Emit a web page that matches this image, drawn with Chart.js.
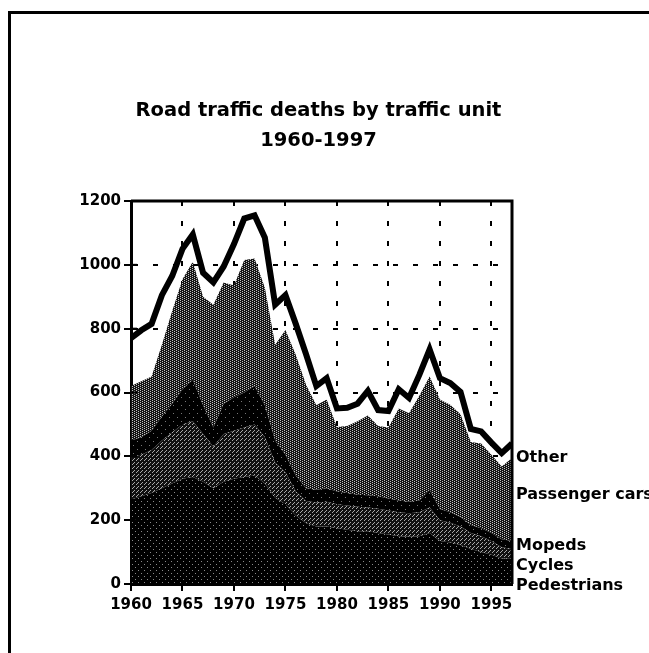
<!DOCTYPE html>
<html>
<head>
<meta charset="utf-8">
<title>Road traffic deaths by traffic unit 1960-1997</title>
<script src="https://cdn.jsdelivr.net/npm/chart.js"></script>
<style>
  html,body{margin:0;padding:0;background:#fff;}
  #wrap{position:relative;width:649px;height:653px;overflow:hidden;}
  #frame{position:absolute;left:8px;top:11px;width:700px;height:700px;border-left:3px solid #000;border-top:3px solid #000;pointer-events:none;}
  canvas{position:absolute;left:0;top:0;}
</style>
</head>
<body>
<div id="wrap">
  <canvas id="chart" width="649" height="653"></canvas>
  <div id="frame"></div>
</div>
<script>
// ===== Dados =====
const years = [1960,1961,1962,1963,1964,1965,1966,1967,1968,1969,
  1970,1971,1972,1973,1974,1975,1976,1977,1978,1979,
  1980,1981,1982,1983,1984,1985,1986,1987,1988,1989,
  1990,1991,1992,1993,1994,1995,1996,1997];

const pedestrians = [265,275,285,300,315,330,335,320,300,320,330,335,340,315,270,250,215,190,180,180,175,170,165,165,160,155,150,148,150,160,135,130,122,110,100,92,80,78];
const cycles      = [135,130,135,150,160,170,175,150,130,150,150,155,160,145,110,100,75,70,75,78,75,76,77,75,76,75,75,74,75,80,65,62,58,50,50,43,35,32];
const mopeds      = [50,55,60,75,90,110,130,90,60,95,105,110,120,100,70,55,50,40,40,42,40,39,38,38,39,38,37,36,37,55,35,33,30,25,25,25,25,25];
const cars        = [170,175,170,225,290,345,370,340,385,380,350,415,400,368,300,391,378,324,265,278,202,210,230,250,220,222,288,277,328,355,343,337,322,260,265,245,228,260];
const other       = [150,160,165,155,110,95,85,75,70,50,130,130,135,157,125,109,97,96,60,67,58,57,55,77,50,52,60,48,65,85,67,68,70,41,38,38,42,45];

const seriesNames = ['Pedestrians','Cycles','Mopeds','Passenger cars','Other'];
const labelValues = [-5, 56, 119, 279, 396]; // altura (em mortes) dos rótulos à direita

const xTicks = [1960,1965,1970,1975,1980,1985,1990,1995];
const yTicks = [0,200,400,600,800,1000,1200];
const titleLines = ['Road traffic deaths by traffic unit','1960-1997'];

// ===== Texturas pontilhadas (imitando o retículo do original) =====
function pontilhado(tile, dots, dotColor, base='#000'){
  const c = document.createElement('canvas');
  c.width = tile; c.height = tile;
  const g = c.getContext('2d');
  g.fillStyle = base; g.fillRect(0,0,tile,tile);
  g.fillStyle = dotColor;
  dots.forEach(([x,y])=> g.fillRect(x,y,1,1));
  return document.getElementById('chart').getContext('2d').createPattern(c,'repeat');
}
const texCars  = pontilhado(4, [[0,0],[2,1],[0,2],[2,3]], '#c0c0c0', '#141414');
const texMop   = pontilhado(8, [[1,1],[5,5]], '#777');
const texCyc   = pontilhado(4, [[0,0],[2,2],[1,3]], '#a8a8a8', '#101010');
const texPed   = pontilhado(6, [[0,0],[3,3]], '#8a8a8a');

const fills = [texPed, texCyc, texMop, texCars, 'rgba(0,0,0,0)'];
const values = [pedestrians, cycles, mopeds, cars, other];

const datasets = seriesNames.map((nome,i)=>({
  label: nome,
  data: years.map((y,k)=>({x:y, y:values[i][k]})),
  backgroundColor: fills[i],
  borderColor: i===4 ? '#000' : 'rgba(0,0,0,0)',
  borderWidth: i===4 ? 6 : 0,
  fill: i===0 ? 'origin' : (i===4 ? false : '-1'),
  pointRadius: 0,
  tension: 0
}));

// título centrado sobre a área do gráfico, moldura (topo e direita),
// tiques cruzando o eixo y e rótulos das séries
const caixaERotulos = {
  id: 'caixaERotulos',
  afterDraw(chart){
    const {ctx, chartArea:a, scales:{y}} = chart;
    ctx.save();
    ctx.strokeStyle = '#000'; ctx.lineWidth = 3;
    ctx.beginPath();
    ctx.moveTo(a.left, a.top); ctx.lineTo(a.right, a.top); ctx.lineTo(a.right, a.bottom);
    ctx.stroke();
    ctx.lineWidth = 2;
    yTicks.forEach(v=>{
      const py = y.getPixelForValue(v);
      ctx.beginPath(); ctx.moveTo(a.left, py); ctx.lineTo(a.left + 6, py); ctx.stroke();
    });
    ctx.fillStyle = '#000';
    ctx.textBaseline = 'middle';
    ctx.textAlign = 'center';
    ctx.font = 'bold 19.5px "DejaVu Sans"';
    titleLines.forEach((t,i)=> ctx.fillText(t, (a.left + a.right)/2 - 3, a.top - 90 + i*30));
    ctx.textAlign = 'left';
    ctx.font = 'bold 16px "DejaVu Sans"';
    seriesNames.forEach((nome,i)=> ctx.fillText(nome, a.right + 4, y.getPixelForValue(labelValues[i])));
    ctx.restore();
  }
};

const fonteEixo = {family:'"DejaVu Sans"', size:15, weight:'bold'};
const grade = {color:'#000', lineWidth:2, tickColor:'#000', tickWidth:2, tickLength:7, tickBorderDash:[]};
const borda = {color:'#000', width:3, dash:[5,15]};

new Chart(document.getElementById('chart').getContext('2d'), {
  type: 'line',
  data: { datasets },
  options: {
    responsive: false,
    animation: false,
    layout: { padding: { left: 81, right: 137, top: 201, bottom: 29 } },
    plugins: {
      legend: { display: false },
      tooltip: { enabled: false },
      title: { display: false }
    },
    scales: {
      x: {
        type: 'linear', min: years[0], max: years[years.length-1],
        afterBuildTicks: ax => { ax.ticks = xTicks.map(v => ({value: v})); },
        afterFit: ax => { ax.height = 40; },
        ticks: { color: '#000', font: fonteEixo, padding: 5, maxRotation: 0, autoSkip: false, callback: v => String(v) },
        grid: grade,
        border: borda
      },
      y: {
        stacked: true, min: 0, max: 1200,
        afterBuildTicks: ax => { ax.ticks = yTicks.map(v => ({value: v})); },
        afterFit: ax => { ax.width = 50; },
        ticks: { color: '#000', font: fonteEixo, padding: 3, autoSkip: false, callback: v => String(v) },
        grid: grade,
        border: borda
      }
    }
  },
  plugins: [caixaERotulos]
});
</script>
</body>
</html>
